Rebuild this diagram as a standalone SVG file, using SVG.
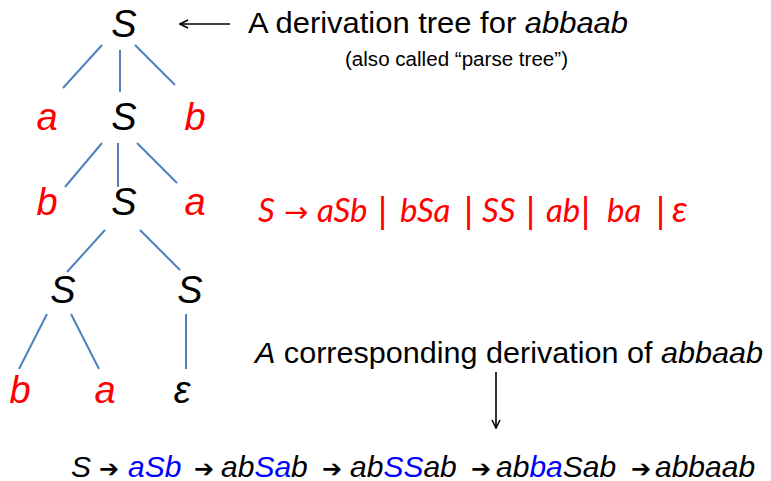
<svg xmlns="http://www.w3.org/2000/svg" width="771" height="481" viewBox="0 0 771 481">
<style>
.sym{font-family:"Liberation Sans",Arial,sans-serif;font-size:38px;font-style:italic;text-anchor:middle}
.blk{fill:#000}
.red{fill:#ff0000}
.edge{stroke:#4f81bd;stroke-width:2;fill:none}
.lbl{font-family:"Liberation Sans",Arial,sans-serif;font-size:30px;fill:#000}
.gram{font-family:Lato,"Open Sans",sans-serif;font-size:33px;font-style:italic;fill:#ff0000}
.gsym{font-family:"DejaVu Sans",sans-serif;font-style:normal;font-size:33px}
.der{font-family:"Liberation Sans",Arial,sans-serif;font-size:30px;font-style:italic;fill:#000}
.blue{fill:#0000ff}
.arr{font-family:"DejaVu Sans",sans-serif;font-size:24px;font-style:normal;fill:#000}
.ptr{stroke:#000;stroke-width:1.6;fill:none}
</style>
<defs>
<marker id="open" viewBox="0 0 10 10" refX="9" refY="5" markerWidth="10" markerHeight="10" markerUnits="userSpaceOnUse" orient="auto">
<path d="M1,1 L9,5 L1,9" fill="none" stroke="#000" stroke-width="1.6"/>
</marker>
</defs>
<g id="connectors">
<line class="edge" x1="102" y1="45" x2="63" y2="88"/>
<line class="edge" x1="120" y1="50" x2="120" y2="92"/>
<line class="edge" x1="135" y1="45" x2="175" y2="85"/>
<line class="edge" x1="102" y1="143" x2="65" y2="187"/>
<line class="edge" x1="118" y1="143" x2="118" y2="187"/>
<line class="edge" x1="137" y1="143" x2="177" y2="183"/>
<line class="edge" x1="105" y1="230" x2="67" y2="272"/>
<line class="edge" x1="140" y1="230" x2="180" y2="270"/>
<line class="edge" x1="47" y1="314" x2="19" y2="369"/>
<line class="edge" x1="71" y1="314" x2="99" y2="369"/>
<line class="edge" x1="186" y1="314" x2="186" y2="369"/>
<line class="ptr" x1="230" y1="24" x2="180" y2="24" marker-end="url(#open)"/>
<line class="ptr" x1="496" y1="372" x2="496" y2="428" marker-end="url(#open)"/>
</g>
<g id="n-root"><text class="sym blk" x="124" y="37">S</text></g>
<g id="n-a1"><text class="sym red" x="47" y="130">a</text></g>
<g id="n-s2"><text class="sym blk" x="124" y="130">S</text></g>
<g id="n-b1"><text class="sym red" x="195" y="130">b</text></g>
<g id="n-b2"><text class="sym red" x="47" y="215">b</text></g>
<g id="n-s3"><text class="sym blk" x="124" y="215">S</text></g>
<g id="n-a2"><text class="sym red" x="195" y="215">a</text></g>
<g id="n-s4l"><text class="sym blk" x="63" y="303">S</text></g>
<g id="n-s4r"><text class="sym blk" x="190" y="303">S</text></g>
<g id="n-b3"><text class="sym red" x="20" y="403">b</text></g>
<g id="n-a3"><text class="sym red" x="105" y="403">a</text></g>
<g id="n-eps"><text class="sym blk" x="182" y="403">ε</text></g>
<g id="title">
<text class="lbl" x="248" y="33" textLength="380" lengthAdjust="spacingAndGlyphs">A derivation tree for <tspan font-style="italic">abbaab</tspan></text>
<text class="lbl" x="345" y="66" style="font-size:20px" textLength="223" lengthAdjust="spacingAndGlyphs">(also called “parse tree”)</text>
</g>
<g id="grammar">
<text class="gram" y="222"><tspan x="258">S</tspan><tspan class="gsym" x="284" style="font-size:29px">→</tspan><tspan x="317">aSb</tspan><tspan class="gsym" x="377">|</tspan><tspan x="400">bSa</tspan><tspan class="gsym" x="463">|</tspan><tspan x="482">SS</tspan><tspan class="gsym" x="525">|</tspan><tspan x="546">ab</tspan><tspan class="gsym" x="580">|</tspan><tspan x="607">ba</tspan><tspan class="gsym" x="655">|</tspan><tspan x="672" style="font-size:37px">ε</tspan></text>
</g>
<g id="caption">
<text class="lbl" x="255" y="363" textLength="508" lengthAdjust="spacingAndGlyphs"><tspan font-style="italic">A</tspan> corresponding derivation of <tspan font-style="italic">abbaab</tspan></text>
</g>
<g id="derivation">
<text class="der" y="477"><tspan x="71">S</tspan><tspan class="arr" x="99">➔</tspan><tspan class="blue" x="128">aSb</tspan><tspan class="arr" x="194">➔</tspan><tspan x="221">ab</tspan><tspan class="blue">Sa</tspan><tspan>b</tspan><tspan class="arr" x="322">➔</tspan><tspan x="350">ab</tspan><tspan class="blue">SS</tspan><tspan>ab</tspan><tspan class="arr" x="471">➔</tspan><tspan x="496">ab</tspan><tspan class="blue">ba</tspan><tspan>Sab</tspan><tspan class="arr" x="631">➔</tspan><tspan x="655">abbaab</tspan></text>
</g>
</svg>
